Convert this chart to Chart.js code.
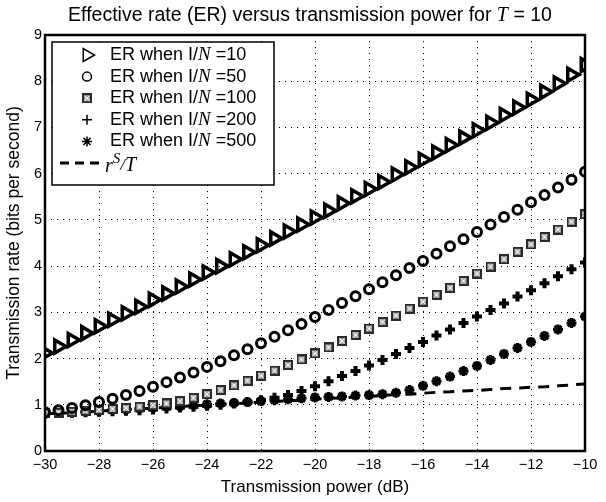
<!DOCTYPE html>
<html>
<head>
<meta charset="utf-8">
<script src="https://cdn.jsdelivr.net/npm/chart.js@4/dist/chart.umd.min.js"></script>
<style>
html, body { margin: 0; padding: 0; background: #fff; }
#wrap { width: 606px; height: 502px; }
</style>
</head>
<body>
<div id="wrap"><canvas id="myChart"></canvas></div>
<script>
// transmission power (dB), one point every 0.5 dB
const power = [-30, -29.5, -29, -28.5, -28, -27.5, -27, -26.5, -26, -25.5, -25, -24.5, -24, -23.5, -23, -22.5, -22, -21.5, -21, -20.5,
    -20, -19.5, -19, -18.5, -18, -17.5, -17, -16.5, -16, -15.5, -15, -14.5, -14, -13.5, -13, -12.5, -12, -11.5, -11, -10.5, -10];
const ratios = [10, 50, 100, 200, 500];

// effective rate for each I/N
const er10 = [2.12, 2.26, 2.40, 2.55, 2.70, 2.84, 2.98, 3.12, 3.27, 3.41, 3.56, 3.71, 3.86, 4.00, 4.15, 4.30, 4.45, 4.60, 4.75, 4.90,
    5.05, 5.20, 5.36, 5.51, 5.67, 5.82, 5.98, 6.14, 6.30, 6.46, 6.62, 6.78, 6.94, 7.10, 7.27, 7.43, 7.60, 7.77, 7.95, 8.14, 8.35];
const er50 = [0.84, 0.88, 0.93, 0.99, 1.06, 1.13, 1.21, 1.30, 1.39, 1.49, 1.59, 1.70, 1.82, 1.94, 2.07, 2.20, 2.33, 2.47, 2.61, 2.75,
    2.90, 3.05, 3.20, 3.35, 3.50, 3.65, 3.80, 3.96, 4.11, 4.27, 4.43, 4.58, 4.74, 4.90, 5.06, 5.22, 5.38, 5.54, 5.70, 5.87, 6.04];
const er100 = [0.82, 0.83, 0.85, 0.87, 0.89, 0.91, 0.93, 0.96, 0.99, 1.03, 1.08, 1.15, 1.23, 1.32, 1.42, 1.52, 1.63, 1.74, 1.86, 1.98,
    2.11, 2.24, 2.38, 2.51, 2.65, 2.79, 2.93, 3.08, 3.23, 3.38, 3.53, 3.68, 3.84, 3.99, 4.15, 4.31, 4.47, 4.63, 4.79, 4.96, 5.12];
const er200 = [0.81, 0.82, 0.83, 0.84, 0.85, 0.86, 0.87, 0.88, 0.90, 0.92, 0.94, 0.96, 0.98, 1.00, 1.03, 1.06, 1.10, 1.15, 1.21, 1.30,
    1.40, 1.51, 1.62, 1.73, 1.85, 1.97, 2.10, 2.23, 2.36, 2.50, 2.63, 2.77, 2.91, 3.05, 3.19, 3.34, 3.48, 3.63, 3.78, 3.93, 4.08];
const er500 = [0.81, 0.82, 0.84, 0.85, 0.87, 0.89, 0.90, 0.92, 0.94, 0.96, 0.97, 0.99, 1.01, 1.03, 1.04, 1.06, 1.08, 1.10, 1.12, 1.14,
    1.16, 1.17, 1.18, 1.20, 1.21, 1.23, 1.26, 1.32, 1.41, 1.51, 1.61, 1.73, 1.84, 1.97, 2.10, 2.23, 2.36, 2.49, 2.63, 2.77, 2.91];
// r^S / T
const rsT = [0.80, 0.82, 0.83, 0.85, 0.86, 0.88, 0.90, 0.91, 0.93, 0.94, 0.96, 0.98, 0.99, 1.01, 1.02, 1.04, 1.06, 1.07, 1.09, 1.10,
    1.12, 1.14, 1.15, 1.17, 1.18, 1.20, 1.22, 1.23, 1.25, 1.27, 1.28, 1.30, 1.31, 1.33, 1.35, 1.36, 1.38, 1.39, 1.41, 1.43, 1.45];

const xTicks = [-30, -28, -26, -24, -22, -20, -18, -16, -14, -12, -10];
const yTicks = [0, 1, 2, 3, 4, 5, 6, 7, 8, 9];

const SANS = "'Liberation Sans', Arial, sans-serif";
const SERIF = "'Liberation Serif', 'Times New Roman', serif";

const pts = (ys) => ys.map((y, i) => ({x: power[i], y: y}));

// grey hatched square marker
const squareMark = document.createElement('canvas');
squareMark.width = 10;
squareMark.height = 10;
(() => {
    const c = squareMark.getContext('2d');
    c.fillStyle = '#2a2a2a';
    c.fillRect(0, 0, 10, 10);
    c.fillStyle = '#a8a8a8';
    c.fillRect(2, 2, 6, 6);
    c.strokeStyle = '#fff';
    c.lineWidth = 1;
    c.beginPath();
    c.moveTo(2.5, 2.5); c.lineTo(7.5, 7.5);
    c.moveTo(7.5, 2.5); c.lineTo(2.5, 7.5);
    c.stroke();
})();

const markerSet = [
    {pointStyle: 'triangle', rotation: 90, radius: 7.5, borderWidth: 3.5, bg: 'rgba(0,0,0,0)', border: '#000'},
    {pointStyle: 'circle', rotation: 0, radius: 4.5, borderWidth: 3, bg: 'rgba(0,0,0,0)', border: '#000'},
    {pointStyle: squareMark, rotation: 0, radius: 5, borderWidth: 0, bg: '#9a9a9a', border: '#333'},
    {pointStyle: 'cross', rotation: 0, radius: 5, borderWidth: 4, bg: '#000', border: '#000'},
    {pointStyle: 'star', rotation: 0, radius: 5, borderWidth: 3, bg: '#000', border: '#000'},
];
const series = [er10, er50, er100, er200, er500];

const datasets = series.map((ys, i) => ({
    label: 'ER when I/N =' + ratios[i],
    data: pts(ys),
    showLine: false,
    pointStyle: markerSet[i].pointStyle,
    rotation: markerSet[i].rotation,
    pointRadius: markerSet[i].radius,
    pointBorderWidth: markerSet[i].borderWidth,
    pointBackgroundColor: markerSet[i].bg,
    pointBorderColor: markerSet[i].border,
}));
datasets.push({
    label: 'r^S/T',
    data: pts(rsT),
    showLine: true,
    borderColor: '#000',
    borderWidth: 3,
    borderDash: [11, 8],
    pointRadius: 0,
    fill: false,
});

// draw text made of parts with different fonts
const drawParts = (ctx, parts, x, y, align) => {
    let total = 0;
    parts.forEach(p => { ctx.font = p.font; total += ctx.measureText(p.t).width; });
    let cx = align === 'center' ? x - total / 2 : x;
    parts.forEach(p => {
        ctx.font = p.font;
        ctx.fillText(p.t, cx, y + (p.dy || 0));
        cx += ctx.measureText(p.t).width;
    });
};

const frameTitleLegend = {
    id: 'frameTitleLegend',
    afterDraw(chart) {
        const ctx = chart.ctx;
        const a = chart.chartArea;
        ctx.save();
        // axes box
        ctx.strokeStyle = '#000';
        ctx.lineWidth = 2.5;
        ctx.strokeRect(a.left, a.top, a.right - a.left, a.bottom - a.top);

        // title
        ctx.fillStyle = '#000';
        ctx.textBaseline = 'alphabetic';
        drawParts(ctx, [
            {t: 'Effective rate (ER) versus transmission power for ', font: '19.5px ' + SANS},
            {t: 'T', font: 'italic 20px ' + SERIF},
            {t: ' = 10', font: '19.5px ' + SANS},
        ], (a.left + a.right) / 2 - 5, 21, 'center');

        // legend box
        const x0 = a.left + 7, y0 = a.top + 7, w = 222, h = 143;
        ctx.fillStyle = '#fff';
        ctx.fillRect(x0, y0, w, h);
        ctx.lineWidth = 1.5;
        ctx.strokeRect(x0, y0, w, h);
        chart.data.datasets.forEach((ds, i) => {
            const cy = y0 + 13 + i * 21.6;
            ctx.fillStyle = '#000';
            if (ds.showLine) {
                ctx.save();
                ctx.setLineDash([9, 6]);
                ctx.lineWidth = ds.borderWidth;
                ctx.beginPath();
                ctx.moveTo(x0 + 8, cy);
                ctx.lineTo(x0 + 52, cy);
                ctx.stroke();
                ctx.restore();
                ctx.textBaseline = 'middle';
                drawParts(ctx, [
                    {t: 'r', font: 'italic 20px ' + SERIF, dy: 4},
                    {t: 'S', font: 'italic 15px ' + SERIF, dy: -4},
                    {t: '/', font: 'italic 17px ' + SERIF, dy: 3},
                    {t: 'T', font: 'italic 20px ' + SERIF, dy: 3},
                ], x0 + 53, cy, 'left');
            } else {
                ctx.fillStyle = ds.pointBackgroundColor;
                ctx.strokeStyle = ds.pointBorderColor;
                Chart.helpers.drawPoint(ctx, {
                    pointStyle: ds.pointStyle,
                    rotation: ds.rotation,
                    radius: ds.pointRadius,
                    borderWidth: ds.pointBorderWidth,
                }, x0 + 35, cy);
                ctx.fillStyle = '#000';
                ctx.textBaseline = 'middle';
                const parts = ds.label.split('N');
                drawParts(ctx, [
                    {t: parts[0], font: '18px ' + SANS},
                    {t: 'N', font: 'italic 19px ' + SERIF},
                    {t: parts[1], font: '18px ' + SANS},
                ], x0 + 58, cy, 'left');
            }
        });
        ctx.restore();
    }
};

const ctx = document.getElementById('myChart').getContext('2d');
const chart = new Chart(ctx, {
    type: 'scatter',
    data: {datasets: datasets},
    options: {
        responsive: true,
        maintainAspectRatio: false,
        animation: false,
        layout: {padding: {top: 35, right: 21, left: 0, bottom: 0}},
        plugins: {
            legend: {display: false},
            title: {display: false},
            tooltip: {enabled: false},
        },
        scales: {
            x: {
                type: 'linear',
                min: -30,
                max: -10,
                afterFit: (s) => { s.height = 51; },
                afterBuildTicks: (s) => { s.ticks = xTicks.map(v => ({value: v})); },
                ticks: {
                    color: '#000',
                    padding: 5,
                    font: {family: SANS, size: 14.5},
                    callback: (v) => String(v).replace('-', '\u2212'),
                },
                grid: {color: '#000', lineWidth: 1, drawTicks: false},
                border: {display: false, dash: [1, 5]},
                title: {display: true, text: 'Transmission power (dB)', color: '#000', font: {family: SANS, size: 17}},
            },
            y: {
                type: 'linear',
                min: 0,
                max: 9,
                afterFit: (s) => { s.width = 45; },
                afterBuildTicks: (s) => { s.ticks = yTicks.map(v => ({value: v})); },
                ticks: {color: '#000', padding: 3, font: {family: SANS, size: 14.5}},
                grid: {color: '#000', lineWidth: 1, drawTicks: false},
                border: {display: false, dash: [1, 5]},
                title: {display: true, text: 'Transmission rate (bits per second)', color: '#000', font: {family: SANS, size: 17.5}},
            }
        }
    },
    plugins: [frameTitleLegend]
});
</script>
</body>
</html>
